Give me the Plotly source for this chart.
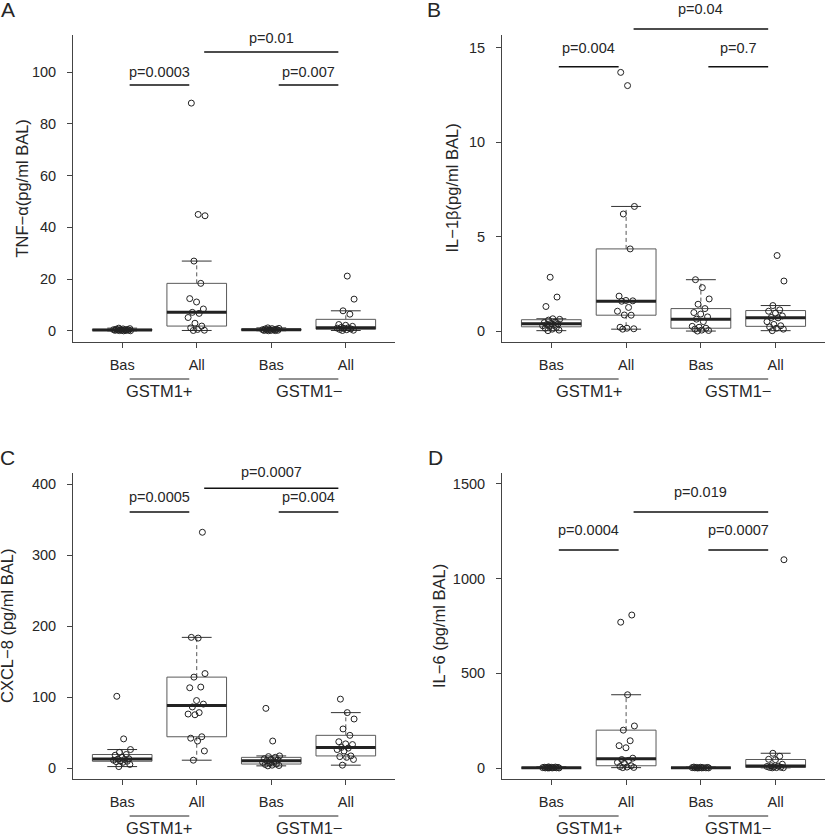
import numpy as np
import plotly.graph_objects as go

# ---------------- data ----------------
x_categories = ["Bas", "All", "Bas", "All"]
genotype_groups = ["GSTM1+", "GSTM1−"]

tnf_pos_bas = [1.1, 0.9, 0.8, 0.7, 0.6, 0.55, 0.5, 0.45, 0.4, 0.35, 0.3, 0.25, 0.2, 0.15, 0.1, 0.05]
tnf_pos_all = [0.2, 0.3, 0.6, 1.2, 1.9, 3.0, 5.2, 6.8, 7.2, 8.5, 11.2, 12.5, 18.4, 27, 44.5, 45, 88]
tnf_neg_bas = [1.2, 1.0, 0.9, 0.8, 0.7, 0.6, 0.5, 0.45, 0.4, 0.3, 0.25, 0.2, 0.15, 0.1]
tnf_neg_all = [0.2, 0.3, 0.5, 0.6, 0.8, 1.0, 1.1, 1.2, 1.4, 1.8, 2.2, 2.5, 6.5, 7.8, 12.3, 21.2]

il1b_pos_bas = [0.02, 0.05, 0.1, 0.15, 0.2, 0.25, 0.28, 0.3, 0.35, 0.38, 0.4, 0.45, 0.48, 0.58, 0.62, 0.65, 1.3, 1.8, 2.85]
il1b_pos_all = [0.1, 0.12, 0.15, 0.2, 0.84, 0.85, 1.05, 1.25, 1.58, 1.6, 1.62, 1.85, 4.35, 6.2, 6.6, 13.0, 13.7]
il1b_neg_bas = [0, 0.03, 0.05, 0.1, 0.15, 0.2, 0.25, 0.5, 0.63, 0.75, 0.9, 0.98, 1.19, 1.42, 1.7, 2.3, 2.72]
il1b_neg_all = [0.02, 0.1, 0.15, 0.22, 0.28, 0.35, 0.5, 0.7, 0.72, 0.8, 0.95, 1.05, 1.12, 1.35, 2.65, 4.0]

cxcl8_pos_bas = [2, 5, 8, 9, 9.5, 10, 11, 12, 12.5, 13, 15, 18, 19, 22, 26, 41, 101]
cxcl8_pos_all = [11, 24, 38, 42, 44, 75, 76, 78, 86, 90, 95, 113, 114, 128, 133, 183, 184, 332]
cxcl8_neg_bas = [3, 3.5, 4, 5, 5.6, 7, 8, 9, 10.3, 11, 12, 13, 15, 16, 17, 38, 84]
cxcl8_neg_all = [4, 12, 15, 16, 17, 24, 26, 28, 29, 33, 34, 37, 46, 55, 69, 78, 97]

il6_pos_bas = [0.1, 0.2, 0.5, 0.5, 1, 1, 2, 2, 3, 3, 4, 4, 5, 6]
il6_pos_all = [2, 3, 5, 8, 12, 25, 30, 40, 45, 52, 107, 118, 144, 200, 222, 387, 770, 808]
il6_neg_bas = [0.2, 0.5, 0.5, 1, 1, 1, 2, 2, 3, 3, 4, 5]
il6_neg_all = [1, 1.5, 2, 3, 4, 6, 8, 10, 12, 20, 44, 46, 62, 78, 1100]

panel_titles = ["TNF−α(pg/ml BAL)", "IL−1β(pg/ml BAL)", "CXCL−8 (pg/ml BAL)", "IL−6 (pg/ml BAL)"]
panel_letters = ["A", "B", "C", "D"]
y_tick_values = [[0, 20, 40, 60, 80, 100], [0, 5, 10, 15], [0, 100, 200, 300, 400], [0, 500, 1000, 1500]]

p_labels = [["p=0.0003", "p=0.007", "p=0.01"],
            ["p=0.004", "p=0.7", "p=0.04"],
            ["p=0.0005", "p=0.004", "p=0.0007"],
            ["p=0.0004", "p=0.0007", "p=0.019"]]

panel_data = [
    [tnf_pos_bas, tnf_pos_all, tnf_neg_bas, tnf_neg_all],
    [il1b_pos_bas, il1b_pos_all, il1b_neg_bas, il1b_neg_all],
    [cxcl8_pos_bas, cxcl8_pos_all, cxcl8_neg_bas, cxcl8_neg_all],
    [il6_pos_bas, il6_pos_all, il6_neg_bas, il6_neg_all],
]

# ---------------- layout geometry ----------------
W, H = 827, 835
COLS = [(73, 395), (502, 825)]
ROWS = [(35, 342), (473, 779)]
XR = [0.34, 4.66]
YRANGES = [[-4.25, 114.3], [-0.58, 15.68], [-15.5, 415.5], [-58, 1558]]
BRACKETS = [
    dict(pair=95, pair_txt=100.2, top=107.7, top_txt=113.3),
    dict(pair=14.0, pair_txt=15.0, top=16.0, top_txt=17.05),
    dict(pair=360.6, pair_txt=381, top=394, top_txt=417),
    dict(pair=1151, pair_txt=1257, top=1352, top_txt=1458),
]
FONT = "Liberation Sans, Arial, sans-serif"
TXT = "#262626"


def fivenum(v):
    x = np.sort(np.asarray(v, float))
    n = len(x)
    n4 = np.floor((n + 3) / 2) / 2
    d = np.array([1, n4, (n + 1) / 2, n + 1 - n4, n]) - 1
    return 0.5 * (x[np.floor(d).astype(int)] + x[np.ceil(d).astype(int)])


def jitter(n, amt=0.12):
    return np.array([amt * (2 * ((k * 0.6180339887 + 0.31) % 1) - 1) for k in range(n)])


def xpaper(col, xv):
    l, r = COLS[col]
    return (l + (xv - XR[0]) / (XR[1] - XR[0]) * (r - l)) / W


def ypaper(row, yv, yr):
    t, b = ROWS[row]
    return 1 - (b - (yv - yr[0]) / (yr[1] - yr[0]) * (b - t)) / H


fig = go.Figure()
annotations = []
shapes = []

for i in range(4):
    row, col = divmod(i, 2)
    suffix = "" if i == 0 else str(i + 1)
    xa, ya = "x" + suffix, "y" + suffix
    yr = YRANGES[i]
    for j, vals in enumerate(panel_data[i]):
        c = j + 1
        v = np.asarray(vals, float)
        _, q1, med, q3, _ = fivenum(v)
        iqr = q3 - q1
        lo = v[v >= q1 - 1.5 * iqr].min()
        hi = v[v <= q3 + 1.5 * iqr].max()
        hw, cw = 0.4, 0.2
        for a, b in [(q3, hi), (q1, lo)]:
            fig.add_trace(go.Scatter(x=[c, c], y=[a, b], mode="lines", xaxis=xa, yaxis=ya,
                                     line=dict(color="#555555", width=1, dash="4px,3px"),
                                     showlegend=False, hoverinfo="skip"))
        for b in [hi, lo]:
            fig.add_trace(go.Scatter(x=[c - cw, c + cw], y=[b, b], mode="lines", xaxis=xa, yaxis=ya,
                                     line=dict(color="#333333", width=1),
                                     showlegend=False, hoverinfo="skip"))
        fig.add_trace(go.Scatter(x=[c - hw, c + hw, c + hw, c - hw, c - hw], y=[q1, q1, q3, q3, q1],
                                 mode="lines", fill="toself", fillcolor="white", xaxis=xa, yaxis=ya,
                                 line=dict(color="#5a5a5a", width=1),
                                 showlegend=False, hoverinfo="skip"))
        fig.add_trace(go.Scatter(x=[c - hw, c + hw], y=[med, med], mode="lines", xaxis=xa, yaxis=ya,
                                 line=dict(color="#222222", width=3),
                                 showlegend=False, hoverinfo="skip"))
        fig.add_trace(go.Scatter(x=c + jitter(len(v)), y=v, mode="markers", xaxis=xa, yaxis=ya,
                                 marker=dict(symbol="circle-open", size=6, color="#222222",
                                             line=dict(width=1, color="#222222")),
                                 cliponaxis=False, showlegend=False, name=x_categories[j]))

    fig.layout["xaxis" + suffix] = dict(
        domain=[COLS[col][0] / W, COLS[col][1] / W], range=XR, anchor=ya,
        tickvals=[1, 2, 3, 4], ticktext=x_categories, ticks="outside", ticklen=5,
        tickcolor="#444444", showline=True, linecolor="#444444", linewidth=1,
        showgrid=False, zeroline=False, ticklabelstandoff=5,
        tickfont=dict(family=FONT, size=14.5, color=TXT), fixedrange=True)
    fig.layout["yaxis" + suffix] = dict(
        domain=[1 - ROWS[row][1] / H, 1 - ROWS[row][0] / H], range=yr, anchor=xa,
        tickvals=y_tick_values[i], ticks="outside", ticklen=5,
        tickcolor="#444444", showline=True, linecolor="#444444", linewidth=1,
        showgrid=False, zeroline=False, ticklabelstandoff=8,
        tickfont=dict(family=FONT, size=14.5, color=TXT), fixedrange=True)

    br = BRACKETS[i]
    for (x0, x1, yl, yt, lab) in [(1.1, 1.9, br["pair"], br["pair_txt"], p_labels[i][0]),
                                  (3.1, 3.9, br["pair"], br["pair_txt"], p_labels[i][1]),
                                  (2.1, 3.9, br["top"], br["top_txt"], p_labels[i][2])]:
        shapes.append(dict(type="line", xref="paper", yref="paper",
                           x0=xpaper(col, x0), x1=xpaper(col, x1),
                           y0=ypaper(row, yl, yr), y1=ypaper(row, yl, yr),
                           line=dict(color="#111111", width=1.5)))
        annotations.append(dict(text=lab, xref="paper", yref="paper",
                                x=xpaper(col, (x0 + x1) / 2), y=ypaper(row, yt, yr),
                                xanchor="center", yanchor="middle", showarrow=False,
                                font=dict(family=FONT, size=14.5, color=TXT)))
    bottom = ROWS[row][1]
    for g, (x0, x1) in enumerate([(1.1, 1.9), (3.1, 3.9)]):
        shapes.append(dict(type="line", xref="paper", yref="paper",
                           x0=xpaper(col, x0), x1=xpaper(col, x1),
                           y0=1 - (bottom + 37) / H, y1=1 - (bottom + 37) / H,
                           line=dict(color="#222222", width=1)))
        annotations.append(dict(text=genotype_groups[g], xref="paper", yref="paper",
                                x=xpaper(col, (x0 + x1) / 2), y=1 - (bottom + 49) / H,
                                xanchor="center", yanchor="middle", showarrow=False,
                                font=dict(family=FONT, size=16.5, color=TXT)))
    title_x = [22, 452, 7, 439][i]
    annotations.append(dict(text=panel_titles[i], xref="paper", yref="paper",
                            x=title_x / W, y=1 - (ROWS[row][0] + ROWS[row][1]) / 2 / H,
                            xanchor="center", yanchor="middle", textangle=-90, showarrow=False,
                            font=dict(family=FONT, size=16.5, color=TXT)))
    lx, ly = [(7.5, 10), (434, 10), (7, 457), (435, 457)][i]
    annotations.append(dict(text=panel_letters[i], xref="paper", yref="paper",
                            x=lx / W, y=1 - ly / H, xanchor="center", yanchor="middle",
                            showarrow=False, font=dict(family=FONT, size=21, color=TXT)))

fig.update_layout(width=W, height=H, margin=dict(l=0, r=0, t=0, b=0),
                  paper_bgcolor="white", plot_bgcolor="white", showlegend=False,
                  annotations=annotations, shapes=shapes,
                  font=dict(family=FONT, color=TXT))

fig.write_html("out.html", config={"displayModeBar": False},
               post_script="document.body.style.margin='0';document.body.style.overflow='hidden';")
